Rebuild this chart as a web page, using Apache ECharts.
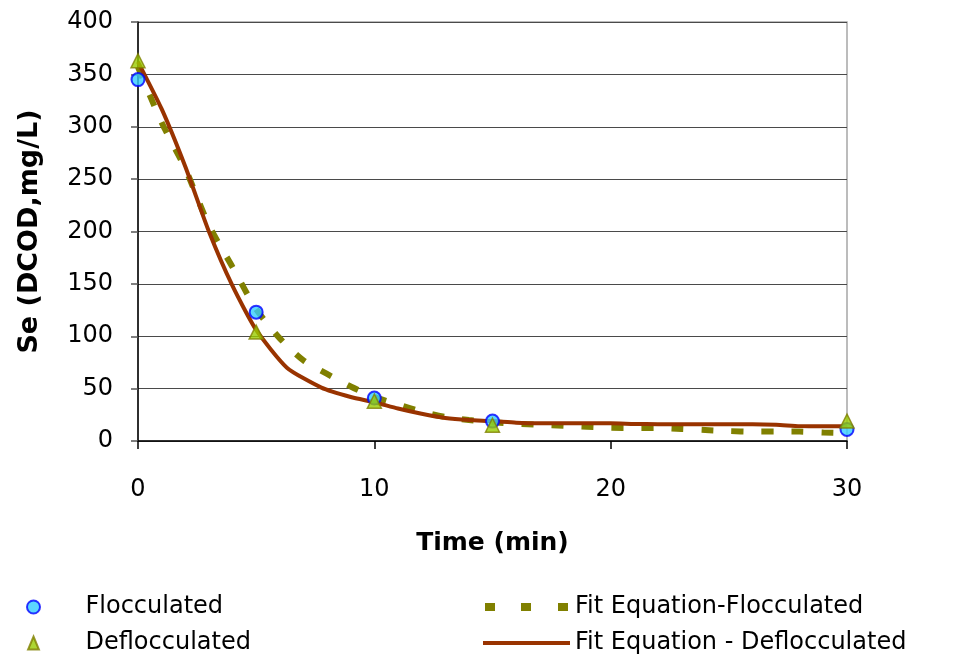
<!DOCTYPE html>
<html>
<head>
<meta charset="utf-8">
<script src="https://cdn.jsdelivr.net/npm/echarts@6/dist/echarts.min.js"></script>
<style>
  html, body { margin: 0; padding: 0; background: #fff; }
  #chart { width: 962px; height: 662px; }
</style>
</head>
<body>
<div id="chart"></div>
<script>
// Measured effluent DCOD (mg/L) against contact time (min)
const timeMeasured = [0, 5, 10, 15, 30];
const flocculated = [345, 123, 41, 19, 11];
const deflocculated = [363, 104, 38, 15, 19];

// Fitted model curves
const fitFlocTime = [0, 1, 2, 3, 4, 5, 6, 7, 8, 9, 10, 11, 12, 13, 14, 15, 16, 17, 18, 19, 20, 21, 22, 23, 24, 25, 26, 27, 28, 29, 30];
const fitFlocValues = [357, 304, 260, 206, 166, 126, 98, 77, 64, 52, 42, 35, 28, 23, 20, 18, 16.5, 15.5, 14.6, 13.5, 12.7, 12.4, 12.4, 11.5, 10.5, 9.5, 9, 9, 9, 8, 7.5];

const fitDeflocTime = [0, 1, 2, 3, 4, 5, 6.3, 7.76, 9, 10, 11, 12, 13, 14, 15, 16, 17, 18, 19, 20, 21, 22, 23, 24, 25, 26, 27, 28, 29, 30];
const fitDeflocValues = [362, 317, 262, 200, 148, 106, 70, 51, 42, 37, 31, 26, 22, 20, 19, 17.5, 17, 17, 17, 17, 16.3, 16, 16, 16, 16, 16, 15.5, 14.2, 14, 14];

// Axis ticks
const xTicks = { min: 0, max: 30, interval: 10 };
const yTicks = { min: 0, max: 400, interval: 50 };

const pairs = (xs, ys) => xs.map((x, i) => [x, ys[i]]);

const FONT = 'DejaVu Sans';

// Legend glyphs
const ICON_TRIANGLE = 'path://M5,0L10,12L0,12Z';
const ICON_DASHED = 'path://M0,0h10v8h-10z M36,0h10v8h-10z M73,0h10v8h-10z';
const ICON_SOLID = 'path://M0,0h87v4h-87z';

const chart = echarts.init(document.getElementById('chart'), null, { renderer: 'canvas' });

chart.setOption({
  backgroundColor: '#ffffff',
  animation: false,
  textStyle: { fontFamily: FONT, color: '#000' },
  grid: {
    left: 138, right: 115, top: 22, bottom: 221,
    show: true, borderColor: '#a6a6a6', borderWidth: 1.5, backgroundColor: '#ffffff'
  },
  xAxis: {
    type: 'value',
    min: xTicks.min, max: xTicks.max, interval: xTicks.interval,
    name: 'Time (min)',
    nameLocation: 'middle',
    nameGap: 90,
    nameTextStyle: { fontFamily: FONT, fontSize: 25, fontWeight: 'bold', color: '#000' },
    axisLine: { show: true, onZero: false, lineStyle: { color: '#000', width: 1.5 } },
    axisTick: { show: true, inside: false, length: 8, lineStyle: { color: '#000', width: 1.5 } },
    axisLabel: { margin: 37, fontFamily: FONT, fontSize: 24, color: '#000' },
    splitLine: { show: false }
  },
  yAxis: {
    type: 'value',
    min: yTicks.min, max: yTicks.max, interval: yTicks.interval,
    name: 'Se (DCOD,mg/L)',
    nameLocation: 'middle',
    nameGap: 95,
    nameTextStyle: { fontFamily: FONT, fontSize: 27, fontWeight: 'bold', color: '#000' },
    axisLine: { show: true, onZero: false, lineStyle: { color: '#000', width: 1.5 } },
    axisTick: { show: true, inside: false, length: 7, lineStyle: { color: '#555', width: 1.5 } },
    axisLabel: { margin: 25, fontFamily: FONT, fontSize: 24, color: '#000' },
    splitLine: { show: true, lineStyle: { color: '#4a4a4a', width: 1.2 } }
  },
  legend: [
    {
      orient: 'vertical',
      left: 26, top: 594, padding: 0,
      itemWidth: 40, itemHeight: 13, itemGap: 10,
      symbolKeepAspect: true,
      textStyle: { fontFamily: FONT, fontSize: 24, color: '#000', lineHeight: 26, padding: [0, 0, 0, 27] },
      data: [
        { name: 'Flocculated', icon: 'circle' },
        { name: 'Deflocculated', icon: ICON_TRIANGLE }
      ]
    },
    {
      orient: 'vertical',
      left: 483, top: 594, padding: 0,
      itemWidth: 87, itemHeight: 8, itemGap: 10,
      symbolKeepAspect: true,
      textStyle: { fontFamily: FONT, fontSize: 24, color: '#000', lineHeight: 26 },
      data: [
        { name: 'Fit Equation-Flocculated', icon: ICON_DASHED, itemStyle: { color: '#808000', borderWidth: 0 } },
        { name: 'Fit Equation - Deflocculated', icon: ICON_SOLID, itemStyle: { color: '#993300', borderWidth: 0 } }
      ]
    }
  ],
  series: [
    {
      name: 'Fit Equation-Flocculated',
      type: 'line',
      data: pairs(fitFlocTime, fitFlocValues),
      showSymbol: false, symbol: 'none',
      smooth: 0.25,
      z: 2,
      itemStyle: { color: '#808000' },
      lineStyle: { color: '#808000', width: 6, type: [12, 18], cap: 'butt' }
    },
    {
      name: 'Fit Equation - Deflocculated',
      type: 'line',
      data: pairs(fitDeflocTime, fitDeflocValues),
      showSymbol: false, symbol: 'none',
      smooth: 0.2,
      z: 3,
      itemStyle: { color: '#993300' },
      lineStyle: { color: '#993300', width: 4, join: 'round' }
    },
    {
      name: 'Flocculated',
      type: 'scatter',
      data: pairs(timeMeasured, flocculated),
      symbol: 'circle', symbolSize: 13,
      z: 4,
      itemStyle: { color: '#33ccff', borderColor: '#0000ff', borderWidth: 2 }
    },
    {
      name: 'Deflocculated',
      type: 'scatter',
      data: pairs(timeMeasured, deflocculated),
      symbol: 'triangle', symbolSize: 14,
      z: 5,
      itemStyle: { color: '#99cc00', borderColor: '#808000', borderWidth: 1.5 }
    }
  ]
});
</script>
</body>
</html>
